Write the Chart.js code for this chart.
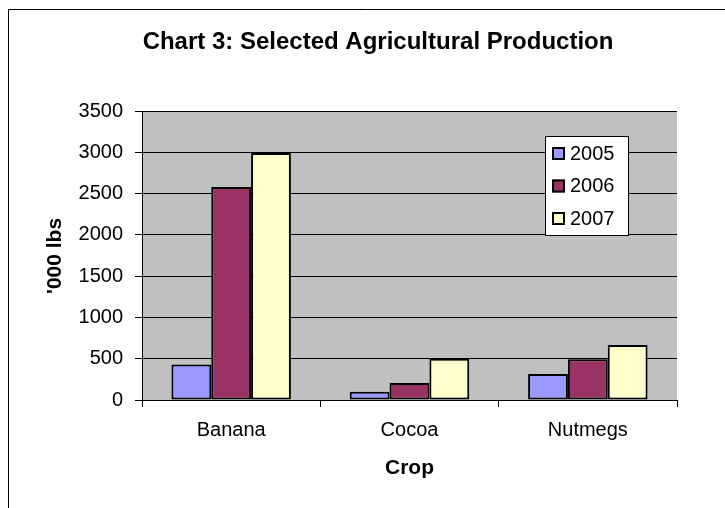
<!DOCTYPE html>
<html>
<head>
<meta charset="utf-8">
<title>Chart 3: Selected Agricultural Production</title>
<script src="https://cdn.jsdelivr.net/npm/chart.js@4"></script>
<style>
  html, body { margin: 0; padding: 0; background: #fff; }
  #wrap { width: 725px; height: 508px; }
</style>
</head>
<body>
<div id="wrap"><canvas id="cropChart" width="725" height="508"></canvas></div>
<script>
"use strict";

// Production data, '000 lbs
const crops = ['Banana', 'Cocoa', 'Nutmegs'];
const years = ['2005', '2006', '2007'];
const prod2005 = [430, 100, 315];
const prod2006 = [2580, 205, 495];
const prod2007 = [2990, 500, 665];
const yTicks = [0, 500, 1000, 1500, 2000, 2500, 3000, 3500];

const FONT = '"Liberation Sans", Arial, Helvetica, sans-serif';
const seriesColors = ['#9999ff', '#993366', '#ffffcc'];

// Frame, grey plot area, title, axis titles and the boxed legend
const excelLook = {
    id: 'excelLook',
    beforeDraw(chart) {
        const { ctx, chartArea: a } = chart;
        ctx.save();
        ctx.fillStyle = '#fff';
        ctx.fillRect(0, 0, chart.width, chart.height);
        ctx.strokeStyle = '#000';
        ctx.lineWidth = 1;
        ctx.beginPath();
        ctx.moveTo(8.5, chart.height);
        ctx.lineTo(8.5, 9.5);
        ctx.lineTo(chart.width, 9.5);
        ctx.stroke();
        ctx.fillStyle = '#c0c0c0';
        ctx.fillRect(a.left, a.top, a.right - a.left, a.bottom - a.top);
        ctx.restore();
    },
    afterDraw(chart) {
        const { ctx, chartArea: a } = chart;
        ctx.save();
        ctx.fillStyle = '#000';
        ctx.textAlign = 'center';
        ctx.textBaseline = 'middle';

        ctx.font = 'bold 24px ' + FONT;
        ctx.fillText('Chart 3: Selected Agricultural Production', 378, 42);

        ctx.font = 'bold 21px ' + FONT;
        ctx.fillText('Crop', (a.left + a.right) / 2, 468);

        ctx.translate(55, 256);
        ctx.rotate(-Math.PI / 2);
        ctx.fillText("'000 lbs", 0, 0);
        ctx.setTransform(1, 0, 0, 1, 0, 0);

        // legend box
        const lx = 545, ly = 136, lw = 83, lh = 99;
        ctx.fillStyle = '#fff';
        ctx.fillRect(lx, ly, lw, lh);
        ctx.strokeStyle = '#000';
        ctx.lineWidth = 1;
        ctx.strokeRect(lx + 0.5, ly + 0.5, lw, lh);

        ctx.font = '20px ' + FONT;
        ctx.textAlign = 'left';
        chart.data.datasets.forEach((ds, i) => {
            const cy = 153 + i * 32.5;
            ctx.fillStyle = ds.backgroundColor;
            ctx.fillRect(552, cy - 6, 13, 13);
            ctx.lineWidth = 2;
            ctx.strokeStyle = '#000';
            ctx.strokeRect(553, cy - 5, 11, 11);
            ctx.fillStyle = '#000';
            ctx.fillText(ds.label, 570, cy + 1);
        });
        ctx.restore();
    }
};

const seriesValues = [prod2005, prod2006, prod2007];

new Chart(document.getElementById('cropChart'), {
    type: 'bar',
    data: {
        labels: crops,
        datasets: years.map((yr, i) => ({
            label: yr,
            data: seriesValues[i],
            backgroundColor: seriesColors[i],
            borderColor: '#000',
            borderWidth: 2,
            borderSkipped: false,
            barPercentage: 1,
            categoryPercentage: 0.67
        }))
    },
    options: {
        responsive: false,
        animation: false,
        layout: { padding: { top: 111, right: 48, left: 0, bottom: 0 } },
        plugins: {
            legend: { display: false },
            title: { display: false },
            tooltip: { enabled: false }
        },
        scales: {
            x: {
                offset: true,
                grid: {
                    offset: true,
                    drawOnChartArea: false,
                    drawTicks: true,
                    tickLength: 7,
                    color: '#000'
                },
                border: { color: '#000', width: 1 },
                ticks: { color: '#000', padding: 11, font: { family: FONT, size: 20 } },
                afterFit(scale) { scale.height = 108; }
            },
            y: {
                min: yTicks[0],
                max: yTicks[yTicks.length - 1],
                afterBuildTicks(scale) { scale.ticks = yTicks.map(v => ({ value: v })); },
                grid: { color: '#000', lineWidth: 1, tickLength: 7 },
                border: { color: '#000', width: 1 },
                ticks: {
                    color: '#000',
                    padding: 12,
                    font: { family: FONT, size: 20 },
                    callback: v => String(v)
                },
                afterFit(scale) { scale.width = 142; }
            }
        }
    },
    plugins: [excelLook]
});
</script>
</body>
</html>
